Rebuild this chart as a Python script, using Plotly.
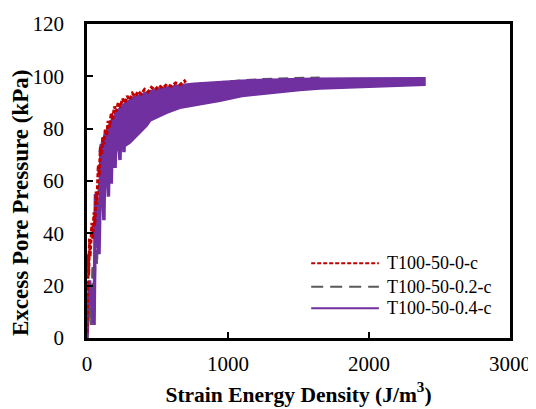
import plotly.graph_objects as go

# ---- data ----
x_ticks = [0, 1000, 2000, 3000]
y_ticks = [0, 20, 40, 60, 80, 100, 120]

series_names = ["T100-50-0-c", "T100-50-0.2-c", "T100-50-0.4-c"]

# T100-50-0-c (red, dashed): cyclic path (alternating peaks / troughs)
red_x = [0, 6, 8, 10, 12, 18, 22, 35, 40, 50, 55, 65, 70, 80, 87, 95, 103, 112, 120, 130,
         140, 150, 160, 172, 182, 195, 207, 222, 236, 252, 268, 285, 303, 322, 342, 363,
         385, 408, 432, 457, 483, 510, 538, 567, 597, 628, 660, 692, 700]
red_y = [2, 20, 12, 32, 24, 38, 31, 44, 38, 48, 43, 56, 51, 66, 62, 73, 70, 77, 74, 80,
         77.5, 83, 80.5, 86, 83.5, 88.5, 86.5, 90, 88.2, 91.5, 89.8, 92.5, 91, 93.5, 92.2, 94.3,
         93.2, 95, 94, 95.8, 94.8, 96.5, 95.5, 97, 96.2, 97.5, 96.8, 98.2, 97.6]

# T100-50-0.2-c (grey, long dash): cyclic path
grey_x = [0, 20, 30, 40, 50, 62, 70, 85, 95, 110, 200, 400, 700, 1000, 1250, 1450, 1650]
grey_y = [0, 15, 5, 28, 10, 40, 28, 60, 50, 72, 84, 92, 96, 98.0, 98.9, 99.3, 99.5]

# T100-50-0.4-c (purple): early cycles (peaks / troughs)
purple_spike_x = [0, 18, 50, 60, 85, 100, 120, 128, 152, 160, 172, 182, 199, 210, 234, 244, 262, 275]
purple_spike_y = [0, 22, 5, 55, 32, 74, 45, 78, 54, 81, 59, 84, 65, 86.5, 68, 88.5, 71, 90]

# T100-50-0.4-c later cycles: upper and lower envelope of the dense band
purple_up_x = [85, 110, 140, 168, 215, 270, 333, 451, 569, 660, 758, 943, 1100, 1227, 1400, 1600, 1900, 2150, 2397]
purple_up_y = [71, 76, 79, 83, 87, 90, 92.1, 94.6, 95.9, 96.8, 97.4, 98.1, 98.5, 98.8, 99.1, 99.3, 99.4, 99.5, 99.5]
purple_lo_x = [2397, 2000, 1652, 1510, 1227, 1100, 943, 758, 660, 569, 451, 425, 333, 305, 262, 234, 199, 170, 148, 120, 100]
purple_lo_y = [96.6, 96.0, 95.2, 94.6, 93.2, 92.3, 90.5, 88.8, 87.8, 86, 83, 81, 76, 74.5, 73, 72.5, 71, 70, 69.5, 69, 70]

RED = "#C00000"
GREY = "#595959"
PURPLE = "#7030A0"
FONT = "'Liberation Serif', 'Times New Roman', Times, serif"

fig = go.Figure()

fig.add_trace(go.Scatter(x=grey_x, y=grey_y, mode="lines", name=series_names[1],
                         line=dict(color=GREY, width=2.5, dash="10px,6px"), showlegend=False))
fig.add_trace(go.Scatter(x=purple_up_x + purple_lo_x, y=purple_up_y + purple_lo_y, mode="lines",
                         fill="toself", fillcolor=PURPLE, name=series_names[2],
                         line=dict(color=PURPLE, width=1.5), showlegend=False))
fig.add_trace(go.Scatter(x=purple_spike_x, y=purple_spike_y, mode="lines", name=series_names[2],
                         line=dict(color=PURPLE, width=3.5), showlegend=False))
fig.add_trace(go.Scatter(x=red_x, y=red_y, mode="lines", name=series_names[0],
                         line=dict(color=RED, width=3, dash="4px,2px"), showlegend=False))

# custom legend (long line samples as in the reference)
leg_y = [0.238, 0.163, 0.095]
leg_styles = [dict(color=RED, width=2, dash="4px,2px"),
              dict(color=GREY, width=2, dash="12px,7px"),
              dict(color=PURPLE, width=2)]
for name, yy, st in zip(series_names, leg_y, leg_styles):
    fig.add_shape(type="line", xref="paper", yref="paper", x0=0.530, x1=0.690, y0=yy, y1=yy,
                  line=st)
    fig.add_annotation(xref="paper", yref="paper", x=0.705, y=yy, text=name, showarrow=False,
                       xanchor="left", yanchor="middle", font=dict(family=FONT, size=18, color="black"))

# y-axis title (placed as in the reference, slightly below the plot centre)
fig.add_annotation(xref="paper", yref="paper", x=-0.156, y=0.43, text="<b>Excess Pore Pressure (kPa)</b>",
                   textangle=-90, showarrow=False, xanchor="center", yanchor="middle",
                   font=dict(family=FONT, size=23, color="black"))

axis_common = dict(showline=True, linecolor="black", linewidth=2.5, mirror=True,
                   ticks="inside", ticklen=6, tickwidth=2, tickcolor="black",
                   showgrid=False, zeroline=False, automargin=False,
                   tickfont=dict(family=FONT, size=21, color="black"))

fig.update_xaxes(range=[0, 3000], tickvals=x_ticks, ticktext=[str(v) for v in x_ticks],
                 title=dict(text="<b>Strain Energy Density (J/m<sup>3</sup>)</b>",
                            font=dict(family=FONT, size=21.5, color="black"), standoff=12),
                 ticklabelstandoff=5, **axis_common)
fig.update_yaxes(range=[0, 120], tickvals=y_ticks, ticktext=[str(v) for v in y_ticks],
                 ticklabelstandoff=16, **axis_common)

# the page body adds an 8px margin, so the figure is 528x401 placed at (8, 8)
fig.update_layout(width=528, height=401, margin=dict(l=79, r=26, t=16, b=71, autoexpand=False),
                  paper_bgcolor="white", plot_bgcolor="white", showlegend=False,
                  font=dict(family=FONT, color="black"))

fig.write_html("out.html")
